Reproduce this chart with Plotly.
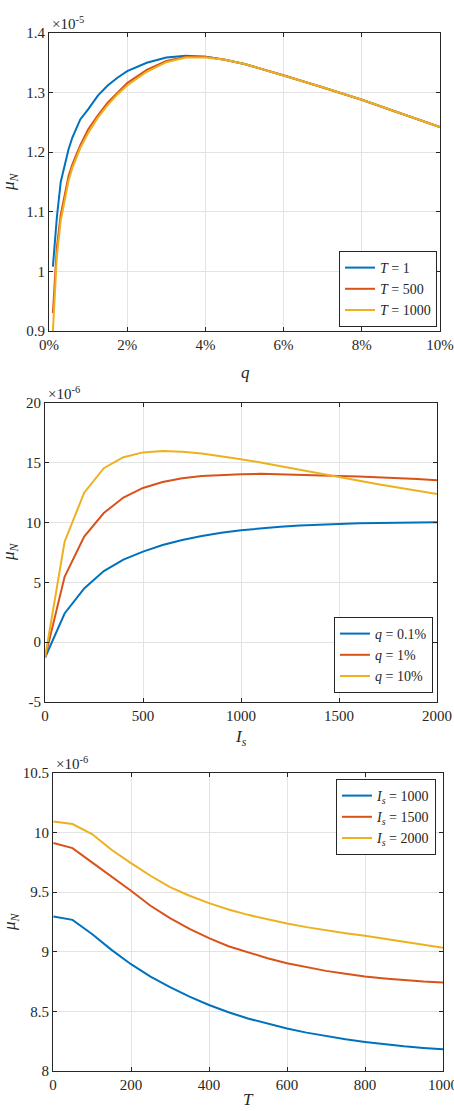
import plotly.graph_objects as go

# ---------- data ----------
# Panel 1: mu_N (x1e-5) vs q (%)
q_pct = [0.1, 0.2, 0.3, 0.4, 0.5, 0.6, 0.8, 1.0, 1.25, 1.5, 1.75, 2.0, 2.5, 3.0, 3.5, 4.0, 4.5, 5, 6, 7, 8, 9, 10]
mu_T1 = [1.008, 1.090, 1.150, 1.180, 1.205, 1.225, 1.255, 1.272, 1.295, 1.312, 1.325, 1.336, 1.350, 1.359, 1.362, 1.360, 1.355, 1.348, 1.329, 1.309, 1.288, 1.265, 1.242]
mu_T500 = [0.930, 1.040, 1.095, 1.130, 1.160, 1.180, 1.212, 1.238, 1.262, 1.283, 1.300, 1.316, 1.338, 1.353, 1.360, 1.360, 1.355, 1.348, 1.329, 1.309, 1.288, 1.265, 1.242]
mu_T1000 = [0.900, 1.025, 1.085, 1.122, 1.152, 1.174, 1.207, 1.232, 1.258, 1.279, 1.297, 1.312, 1.335, 1.351, 1.359, 1.359, 1.355, 1.348, 1.329, 1.309, 1.288, 1.265, 1.242]
names1 = ["<i>T</i> = 1", "<i>T</i> = 500", "<i>T</i> = 1000"]

# Panel 2: mu_N (x1e-6) vs I_s
Is = [0, 100, 200, 300, 400, 500, 600, 700, 800, 900, 1000, 1100, 1200, 1300, 1400, 1500, 1600, 1700, 1800, 1900, 2000]
mu_q01 = [-1.3, 2.4, 4.5, 5.95, 6.9, 7.57, 8.13, 8.55, 8.88, 9.16, 9.36, 9.53, 9.66, 9.75, 9.83, 9.89, 9.94, 9.97, 10.0, 10.02, 10.03]
mu_q1 = [-1.3, 5.47, 8.83, 10.8, 12.1, 12.9, 13.4, 13.7, 13.9, 14.0, 14.05, 14.08, 14.05, 14.02, 13.97, 13.9, 13.85, 13.8, 13.7, 13.65, 13.55]
mu_q10 = [-1.3, 8.4, 12.5, 14.55, 15.47, 15.87, 15.98, 15.92, 15.78, 15.56, 15.3, 15.03, 14.72, 14.39, 14.08, 13.8, 13.49, 13.21, 12.93, 12.68, 12.4]
names2 = ["<i>q</i> = 0.1%", "<i>q</i> = 1%", "<i>q</i> = 10%"]

# Panel 3: mu_N (x1e-6) vs T
T = [1, 50, 100, 150, 200, 250, 300, 350, 400, 450, 500, 550, 600, 650, 700, 750, 800, 850, 900, 950, 1000]
mu_Is1000 = [9.296, 9.268, 9.15, 9.016, 8.896, 8.792, 8.703, 8.624, 8.554, 8.493, 8.44, 8.395, 8.356, 8.322, 8.291, 8.266, 8.244, 8.224, 8.207, 8.193, 8.182]
mu_Is1500 = [9.912, 9.87, 9.75, 9.632, 9.512, 9.386, 9.282, 9.193, 9.114, 9.047, 8.994, 8.946, 8.904, 8.871, 8.84, 8.815, 8.792, 8.776, 8.762, 8.75, 8.742]
mu_Is2000 = [10.094, 10.072, 9.988, 9.856, 9.744, 9.638, 9.543, 9.47, 9.408, 9.355, 9.31, 9.271, 9.237, 9.207, 9.179, 9.156, 9.134, 9.109, 9.083, 9.058, 9.033]
names3 = ["<i>I<sub>s</sub></i> = 1000", "<i>I<sub>s</sub></i> = 1500", "<i>I<sub>s</sub></i> = 2000"]

# tick labels
xticks1 = [0, 2, 4, 6, 8, 10]
xtext1 = ["0%", "2%", "4%", "6%", "8%", "10%"]
xticks2 = [0, 500, 1000, 1500, 2000]
xticks3 = [0, 200, 400, 600, 800, 1000]
yticks1 = [0.9, 1.0, 1.1, 1.2, 1.3, 1.4]
ytext1 = ["0.9", "1", "1.1", "1.2", "1.3", "1.4"]
yticks2 = [-5, 0, 5, 10, 15, 20]
yticks3 = [8, 8.5, 9, 9.5, 10, 10.5]
ytext3 = ["8", "8.5", "9", "9.5", "10", "10.5"]

colors = ["#0072BD", "#D95319", "#EDB120"]

W, H = 454, 1111
FONT = "Liberation Serif"
AXC = "#262626"

def px(x):
    return x / W

def py(y):
    return 1 - y / H

fig = go.Figure()

panels = [
    (q_pct, [mu_T1, mu_T500, mu_T1000], names1, "x", "y", "legend"),
    (Is, [mu_q01, mu_q1, mu_q10], names2, "x2", "y2", "legend2"),
    (T, [mu_Is1000, mu_Is1500, mu_Is2000], names3, "x3", "y3", "legend3"),
]
for xs, ys_list, names, xa, ya, lg in panels:
    for ys, nm, c in zip(ys_list, names, colors):
        fig.add_trace(go.Scatter(x=xs, y=ys, mode="lines", name=nm,
                                 line=dict(color=c, width=2),
                                 xaxis=xa, yaxis=ya, legend=lg))

axis_common = dict(showline=True, linecolor=AXC, linewidth=1, mirror="ticks",
                   ticks="inside", ticklen=4, tickcolor=AXC, automargin=False,
                   ticklabeloverflow="allow",
                   showgrid=True, gridcolor="#e3e3e3", gridwidth=1, zeroline=False,
                   tickfont=dict(family=FONT, size=15, color=AXC))

# pixel boxes for each panel (left, right, top, bottom)
boxes = [(49, 440, 33, 331), (45, 437, 403, 702), (53, 443, 773, 1071)]
xranges = [[0, 10], [0, 2000], [0, 1000]]
xtickv = [xticks1, xticks2, xticks3]
xtickt = [xtext1, [str(v) for v in xticks2], [str(v) for v in xticks3]]
yranges = [[0.9, 1.4], [-5, 20], [8, 10.5]]
ytickv = [yticks1, yticks2, yticks3]
ytickt = [ytext1, [str(v) for v in yticks2], ytext3]

layout = dict(width=W, height=H, margin=dict(l=0, r=0, t=0, b=0, autoexpand=False),
              paper_bgcolor="white", plot_bgcolor="white", showlegend=True)
for i, (l, r, t, b) in enumerate(boxes):
    sfx = "" if i == 0 else str(i + 1)
    layout["xaxis" + sfx] = dict(axis_common, domain=[px(l), px(r)], range=xranges[i],
                                 tickvals=xtickv[i], ticktext=xtickt[i],
                                 anchor="y" + sfx)
    layout["yaxis" + sfx] = dict(axis_common, domain=[py(b), py(t)], range=yranges[i],
                                 tickvals=ytickv[i], ticktext=ytickt[i],
                                 anchor="x" + sfx)

leg_common = dict(bgcolor="white", bordercolor="#262626", borderwidth=1,
                  font=dict(family=FONT, size=14, color=AXC),
                  itemwidth=30, tracegroupgap=0)
layout["legend"] = dict(leg_common, x=px(437), y=py(327), xanchor="right", yanchor="bottom")
layout["legend2"] = dict(leg_common, x=px(433), y=py(693), xanchor="right", yanchor="bottom")
layout["legend3"] = dict(leg_common, x=px(436), y=py(779), xanchor="right", yanchor="top")

fig.update_layout(**layout)

ann = []
# exponent labels
for (xp, yp, txt) in [(50, 23, "×10<sup>-5</sup>"), (46, 393, "×10<sup>-6</sup>"), (54, 763, "×10<sup>-6</sup>")]:
    ann.append(dict(text=txt, x=px(xp), y=py(yp), xref="paper", yref="paper",
                    xanchor="left", yanchor="middle", showarrow=False,
                    font=dict(family=FONT, size=15, color=AXC)))
# x titles
for (xp, yp, txt) in [(245, 372, "<i>q</i>"), (241, 738, "<i>I<sub>s</sub></i>"), (248, 1099, "<i>T</i>")]:
    ann.append(dict(text=txt, x=px(xp), y=py(yp), xref="paper", yref="paper",
                    xanchor="center", yanchor="middle", showarrow=False,
                    font=dict(family=FONT, size=17, color=AXC)))
# y titles
for (xp, yp) in [(10, 182), (10, 552), (11, 922)]:
    ann.append(dict(text="<i>μ<sub>N</sub></i>", x=px(xp), y=py(yp), xref="paper", yref="paper",
                    xanchor="center", yanchor="middle", showarrow=False, textangle=-90,
                    font=dict(family=FONT, size=17, color=AXC)))
fig.update_layout(annotations=ann)

fig.write_html("out.html")
